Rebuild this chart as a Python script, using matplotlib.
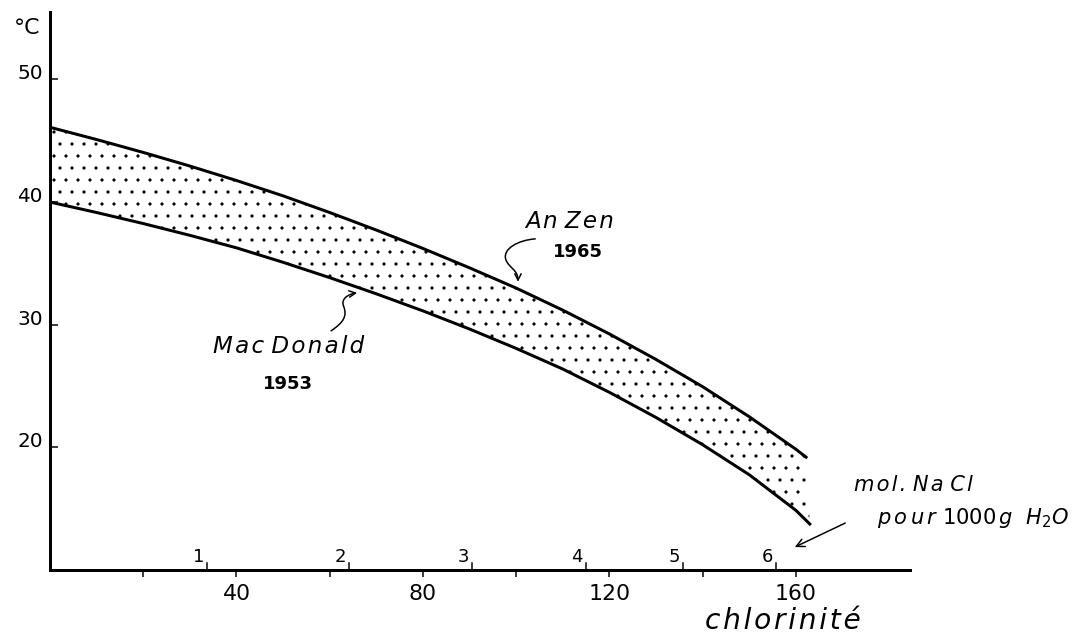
import numpy as np
import matplotlib.pyplot as plt
from matplotlib.path import Path
from matplotlib.patches import FancyArrowPatch

# temperature (degC) vs chlorinity, two literature curves
chl_anzen = [0, 10, 20, 30, 40, 50, 60, 70, 80, 90, 100, 110, 120, 130, 140, 150, 160, 162.2]
temp_anzen = [46.1, 45.1, 44.05, 42.94, 41.76, 40.51, 39.15, 37.72, 36.22, 34.64,
              32.99, 31.19, 29.25, 27.17, 24.95, 22.5, 19.85, 19.2]

chl_macdonald = [0, 10, 20, 30, 40, 50, 60, 70, 80, 90, 100, 110, 120, 130, 140, 150, 160, 163]
temp_macdonald = [40.0, 39.15, 38.25, 37.29, 36.27, 35.09, 33.84, 32.52, 31.13, 29.65,
                  28.07, 26.39, 24.49, 22.44, 20.22, 17.77, 14.87, 13.75]

# molality scale (mol NaCl / 1000 g H2O) placed on the chlorinity axis
mol_labels = ['1', '2', '3', '4', '5', '6']
mol_chl = [33.7, 64.2, 90.6, 115.0, 135.8, 155.8]

xticks_major = [40, 80, 120, 160]
xticks_minor = [20, 60, 100, 140]
yticks = [20, 30, 40, 50]

HAIR = '\u200a'


def spaced(s):
    # widen letter spacing with hair spaces
    return HAIR.join(s)


plt.rcParams['hatch.linewidth'] = 0.7

fig = plt.figure(figsize=(1084 / 72, 633 / 72), dpi=72)
ax = fig.add_axes([50 / 1084, 63 / 633, 860 / 1084, 558 / 633])
ax.set_xlim(0, 184.5)
ax.set_ylim(10, 55.5)

for side in ['top', 'right']:
    ax.spines[side].set_visible(False)
for side in ['left', 'bottom']:
    ax.spines[side].set_linewidth(3)

# stippled band between the two curves
band_x = np.r_[chl_anzen, chl_macdonald[::-1]]
band_y = np.r_[temp_anzen, temp_macdonald[::-1]]
ax.fill(band_x, band_y, facecolor='none', edgecolor='black', linewidth=0, hatch='.')

ax.plot(chl_anzen, temp_anzen, color='black', lw=3)
ax.plot(chl_macdonald, temp_macdonald, color='black', lw=3)

# axes ticks
ax.set_xticks(xticks_major)
ax.set_xticks(xticks_minor, minor=True)
ax.set_xticklabels([str(v) for v in xticks_major], fontsize=22)
ax.tick_params(axis='x', which='both', direction='out', length=7, width=1.5, pad=7)
ax.set_yticks(yticks)
ax.set_yticklabels([])
ax.tick_params(axis='y', direction='in', length=8, width=1.5)
for v in yticks:
    ax.annotate(str(v), xy=(0, v), xytext=(-7, 0), textcoords='offset points',
                ha='right', va='baseline', fontsize=20)

# molality ticks and labels above the axis
for lab, c in zip(mol_labels, mol_chl):
    ax.plot([c, c], [0, 0.013], color='black', lw=1.5,
            transform=ax.get_xaxis_transform(), clip_on=False)
    ax.annotate(lab, xy=(c, 10), xytext=(-3, 8), textcoords='offset points',
                ha='right', va='baseline', fontsize=18)

fig.text(27 / 1084, 1 - 28 / 633, '°C', fontsize=22, ha='center', va='center')
ax.text(157.3, 5.2, spaced('chlorinité'), fontsize=28, style='italic',
        ha='center', va='baseline')

# curve labels
ax.text(111.4, 38.4, spaced('An') + ' ' + spaced('Zen'), fontsize=23, style='italic',
        ha='center', va='center')
ax.text(113.3, 35.9, '1965', fontsize=18, weight='bold', ha='center', va='center')
ax.text(51.1, 28.2, spaced('Mac') + ' ' + spaced('Donald'), fontsize=23, style='italic',
        ha='center', va='center')
ax.text(51.1, 25.2, '1953', fontsize=18, weight='bold', ha='center', va='center')

# wavy leader arrows
anzen_path = Path([(104.1, 37.0), (100.5, 36.9), (97.0, 36.2), (97.8, 35.3),
                   (98.5, 34.6), (100.4, 34.5), (100.4, 33.5)],
                  [Path.MOVETO, Path.CURVE4, Path.CURVE4, Path.CURVE4,
                   Path.CURVE4, Path.CURVE4, Path.CURVE4])
ax.add_patch(FancyArrowPatch(path=anzen_path, arrowstyle='->', mutation_scale=16,
                             lw=1.5, color='black'))
macd_path = Path([(60.3, 29.5), (63.0, 30.2), (63.8, 30.7), (63.0, 31.5),
                  (62.3, 32.1), (64.0, 32.5), (65.9, 32.6)],
                 [Path.MOVETO, Path.CURVE4, Path.CURVE4, Path.CURVE4,
                  Path.CURVE4, Path.CURVE4, Path.CURVE4])
ax.add_patch(FancyArrowPatch(path=macd_path, arrowstyle='->', mutation_scale=16,
                             lw=1.5, color='black'))

# molality scale note
ax.text(185.2, 16.9, spaced('mol.') + ' ' + spaced('Na') + ' ' + spaced('Cl'),
        fontsize=21, style='italic', ha='center', va='center')
ax.text(198.1, 14.2, r'$\mathit{p\,o\,u\,r}$ 1000$\,\mathit{g}\ \ \mathit{H_2O}$',
        fontsize=21, ha='center', va='center')
ax.annotate('', xy=(159.4, 11.8), xytext=(171.0, 13.9),
            arrowprops=dict(arrowstyle='->', lw=1.5, color='black', mutation_scale=20))

fig.savefig('out.png', dpi=72)
